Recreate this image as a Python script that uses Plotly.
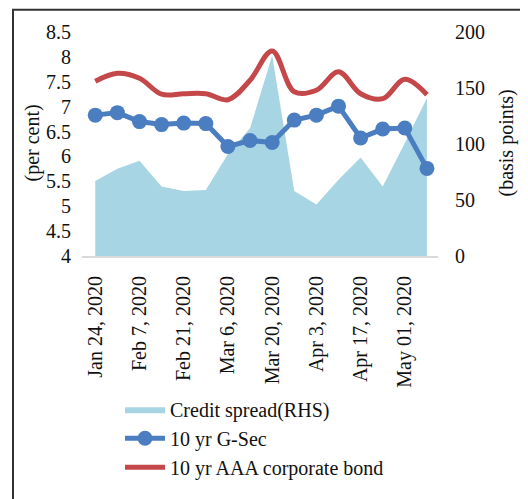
import plotly.graph_objects as go

dates = ["Jan 24, 2020", "Jan 31, 2020", "Feb 7, 2020", "Feb 14, 2020", "Feb 21, 2020",
         "Feb 28, 2020", "Mar 6, 2020", "Mar 13, 2020", "Mar 20, 2020", "Mar 27, 2020",
         "Apr 3, 2020", "Apr 10, 2020", "Apr 17, 2020", "Apr 24, 2020", "May 01, 2020",
         "May 08, 2020"]
tick_labels = dates[::2]
credit_spread = [67, 78, 85, 62, 58, 59, 91, 114, 179, 58, 46, 68, 88, 62, 101, 141]
gsec = [6.83, 6.88, 6.70, 6.64, 6.67, 6.66, 6.20, 6.32, 6.28, 6.73, 6.83, 7.01, 6.37, 6.55, 6.57, 5.76]
aaa = [7.51, 7.67, 7.57, 7.25, 7.26, 7.26, 7.14, 7.53, 8.12, 7.30, 7.33, 7.70, 7.26, 7.16, 7.55, 7.24]

FONT = "Liberation Serif"
TXT = "#111111"
tf = dict(family=FONT, size=20, color=TXT)

fig = go.Figure()
fig.add_trace(go.Scatter(x=dates, y=credit_spread, name="Credit spread(RHS)", mode="lines",
                         line=dict(width=0, color="#a8d5e3"), fill="tozeroy",
                         fillcolor="#a8d5e3", yaxis="y", legendrank=1))
fig.add_trace(go.Scatter(x=dates, y=gsec, name="10 yr G-Sec", mode="lines+markers",
                         line=dict(width=5, color="#4a7ec0"),
                         marker=dict(size=15, color="#4a7ec0"), yaxis="y2", legendrank=2))
fig.add_trace(go.Scatter(x=dates, y=aaa, name="10 yr AAA corporate bond", mode="lines",
                         line=dict(width=5, color="#c4474a", shape="spline", smoothing=1.0),
                         yaxis="y2", legendrank=3))

# page body has an 8px margin; figure is sized so the page layout matches
OFF = 8
W, H = 520, 491
L, R, T, B = 74, 90, 24, 236
pw, ph = W - L - R, H - T - B

def px(x):
    return (x - OFF - L) / pw

def py(y):
    return (H - B - (y - OFF)) / ph

fig.update_layout(
    width=W, height=H,
    margin=dict(l=L, r=R, t=T, b=B),
    paper_bgcolor="white", plot_bgcolor="white",
    font=tf,
    showlegend=True,
    legend=dict(x=px(120), y=py(401), xanchor="left", yanchor="top",
                font=tf, bgcolor="rgba(0,0,0,0)",
                tracegroupgap=0, itemwidth=40),
    xaxis=dict(type="category", range=[-0.6, 15.5], tickvals=tick_labels, ticktext=tick_labels,
               tickangle=-90, showgrid=False, showline=True, linecolor="#d9d9d9", linewidth=2,
               ticks="", zeroline=False, tickfont=tf, ticklabelstandoff=10),
    yaxis=dict(side="right", range=[0, 200], dtick=50, showgrid=False, zeroline=False,
               ticks="", ticklabelstandoff=16, tickfont=tf),
    yaxis2=dict(side="left", overlaying="y", range=[4, 8.5], dtick=0.5, showgrid=False,
                zeroline=False, ticks="", ticklabelstandoff=10, tickfont=tf),
    annotations=[
        dict(text="(per cent)", xref="paper", yref="paper", x=px(33), y=py(147),
             xanchor="center", yanchor="middle", textangle=-90, showarrow=False, font=tf),
        dict(text="(basis points)", xref="paper", yref="paper", x=px(507), y=py(147),
             xanchor="center", yanchor="middle", textangle=-90, showarrow=False, font=tf),
    ],
    shapes=[dict(type="rect", xref="paper", yref="paper",
                 x0=px(13), x1=px(560), y0=py(9), y1=py(540),
                 line=dict(color="#333333", width=2), layer="below")],
)

fig.write_html("out.html")
